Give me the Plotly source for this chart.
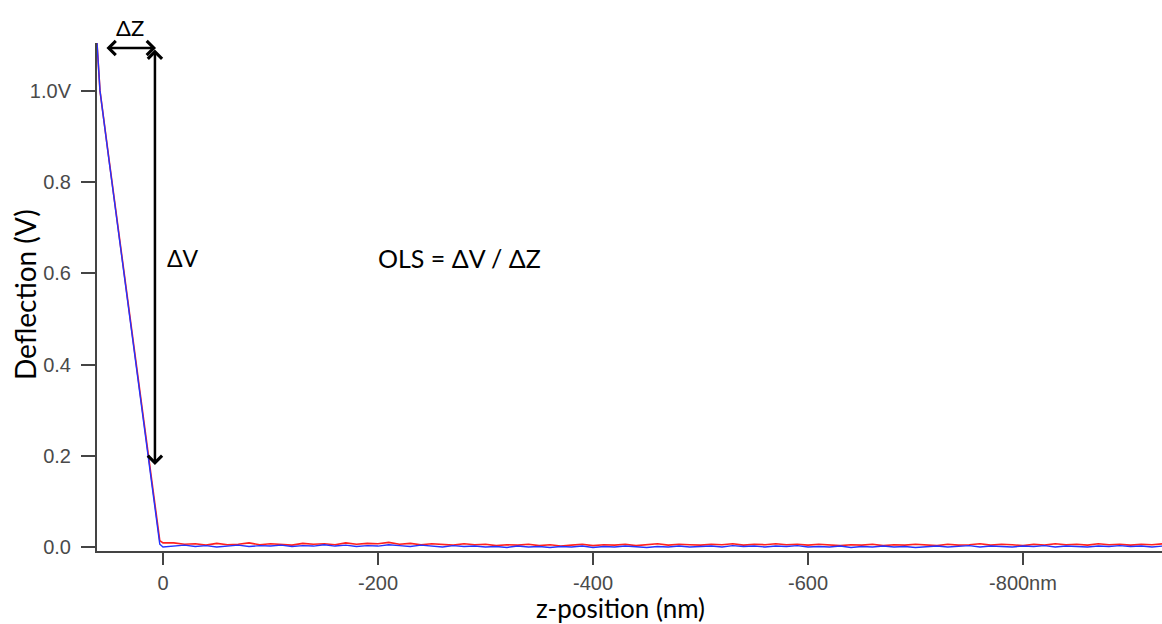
import plotly.graph_objects as go

# Contact (slope) region
z_contact = [61.4, 58.6, 50, 40, 30, 20, 14, 8, 3, 0]
red_contact = [1.105, 1.0, 0.846, 0.667, 0.488, 0.309, 0.2, 0.095, 0.014, 0.009]
blue_contact = [1.105, 1.0, 0.844, 0.665, 0.486, 0.307, 0.198, 0.092, 0.006, 0.0]

# Baseline (non-contact) region
z_base = [-10 * i for i in range(1, 95)]
red_base = [0.009,0.006,0.007,0.004,0.008,0.005,0.006,0.009,0.005,0.007,
            0.006,0.004,0.008,0.006,0.007,0.005,0.009,0.006,0.008,0.007,
            0.010,0.006,0.008,0.005,0.007,0.006,0.004,0.007,0.005,0.006,
            0.003,0.005,0.004,0.006,0.003,0.005,0.002,0.004,0.006,0.003,
            0.005,0.004,0.006,0.003,0.005,0.007,0.004,0.006,0.005,0.004,
            0.006,0.005,0.007,0.004,0.006,0.005,0.007,0.005,0.006,0.004,
            0.006,0.005,0.003,0.005,0.004,0.006,0.003,0.005,0.004,0.006,
            0.005,0.003,0.006,0.004,0.005,0.007,0.004,0.006,0.005,0.003,
            0.006,0.004,0.007,0.005,0.006,0.004,0.007,0.005,0.006,0.004,
            0.006,0.005,0.007,0.005]
blue_base = [0.002,0.004,0.001,0.003,0.000,0.002,0.004,0.001,0.003,0.002,
             0.004,0.001,0.003,0.002,0.005,0.002,0.004,0.001,0.003,0.002,
             0.005,0.003,0.001,0.004,0.002,0.000,0.003,0.001,0.002,0.000,
             0.001,-0.001,0.002,0.000,0.001,-0.001,0.001,0.000,0.002,-0.001,
             0.001,0.000,0.002,0.000,-0.001,0.001,0.000,0.002,0.000,0.001,
             0.002,0.000,0.003,0.001,0.002,0.000,0.002,0.001,0.003,0.000,
             0.001,0.000,0.002,-0.001,0.001,0.000,0.002,0.000,0.001,-0.001,
             0.001,0.002,0.000,0.001,0.003,0.000,0.002,0.001,0.000,0.002,
             0.001,0.003,0.000,0.002,0.001,0.000,0.002,0.001,0.003,0.001,
             0.002,0.000,0.002,0.001]

x_tickvals = [0, -200, -400, -600, -800]
x_ticktext = ["0", "-200", "-400", "-600", "-800nm"]
y_tickvals = [0.0, 0.2, 0.4, 0.6, 0.8, 1.0]
y_ticktext = ["0.0", "0.2", "0.4", "0.6", "0.8", "1.0V"]

# Annotation anchors (data units)
dz_start, dz_end, arrow_top = 54, 6.5, 1.094
dv_x, dv_bottom = 7.5, 0.18

fig = go.Figure()
fig.add_trace(go.Scatter(x=z_contact + z_base, y=red_contact + red_base, mode="lines",
                         line=dict(color="#ff2020", width=1.6), showlegend=False))
fig.add_trace(go.Scatter(x=z_contact + z_base, y=blue_contact + blue_base, mode="lines",
                         line=dict(color="#2233ff", width=1.4), showlegend=False))

tick_font = dict(family="Liberation Sans, Arial", size=20, color="#4a4a4a")
fig.update_layout(
    width=1162, height=624,
    margin=dict(l=97, r=0, t=43, b=73, autoexpand=False),
    paper_bgcolor="white", plot_bgcolor="white",
    xaxis=dict(range=[61.4, -929.3], tickvals=x_tickvals, ticktext=x_ticktext,
               automargin=False,
               showgrid=False, zeroline=False, showline=True, linecolor="#444", linewidth=2,
               ticks="outside", ticklen=12, tickwidth=2, tickcolor="#444",
               ticklabelstandoff=1, tickfont=tick_font),
    yaxis=dict(range=[-0.0088, 1.105], tickvals=y_tickvals, ticktext=y_ticktext,
               automargin=False,
               showgrid=False, zeroline=False, showline=True, linecolor="#444", linewidth=2,
               ticks="outside", ticklen=14, tickwidth=2, tickcolor="#444",
               ticklabelstandoff=6, tickfont=tick_font),
)

fig.add_annotation(x=0.492, y=-0.112, xref="paper", yref="paper", text="z-position (nm)",
                   showarrow=False,
                   font=dict(family="Lato, Open Sans, sans-serif", size=26, color="black"),
                   xanchor="center", yanchor="middle")
fig.add_annotation(x=-0.0676, y=0.504, xref="paper", yref="paper", text="Deflection (V)",
                   textangle=-90, showarrow=False,
                   font=dict(family="Lato, Open Sans, sans-serif", size=28, color="black"),
                   xanchor="center", yanchor="middle")

# ΔZ double arrow
fig.add_annotation(x=dz_end, y=arrow_top, ax=dz_start, ay=arrow_top, xref="x", yref="y",
                   axref="x", ayref="y", showarrow=True, arrowhead=4, startarrowhead=4,
                   arrowside="end+start", arrowsize=1.1, startarrowsize=1.1, arrowwidth=2.5,
                   arrowcolor="black", text="")
# ΔV double arrow
fig.add_annotation(x=dv_x, y=dv_bottom, ax=dv_x, ay=arrow_top, xref="x", yref="y",
                   axref="x", ayref="y", showarrow=True, arrowhead=4, startarrowhead=4,
                   arrowside="end+start", arrowsize=1.1, startarrowsize=1.1, arrowwidth=2.5,
                   arrowcolor="black", text="")

fig.add_annotation(x=30.5, y=1.03, xref="x", yref="paper", text="ΔZ", showarrow=False,
                   font=dict(family="Lato, Open Sans, sans-serif", size=22, color="black"),
                   xanchor="center", yanchor="middle")
fig.add_annotation(x=-18.6, y=0.634, xref="x", yref="y", text="ΔV", showarrow=False,
                   font=dict(family="Lato, Open Sans, sans-serif", size=23, color="black"),
                   xanchor="center", yanchor="middle")
fig.add_annotation(x=-276, y=0.634, xref="x", yref="y", text="OLS = ΔV / ΔZ", showarrow=False,
                   font=dict(family="Lato, Open Sans, sans-serif", size=25, color="black"),
                   xanchor="center", yanchor="middle")

fig.write_html("out.html", config={"displayModeBar": False},
               post_script="document.body.style.margin='0';document.body.style.overflow='hidden';")
